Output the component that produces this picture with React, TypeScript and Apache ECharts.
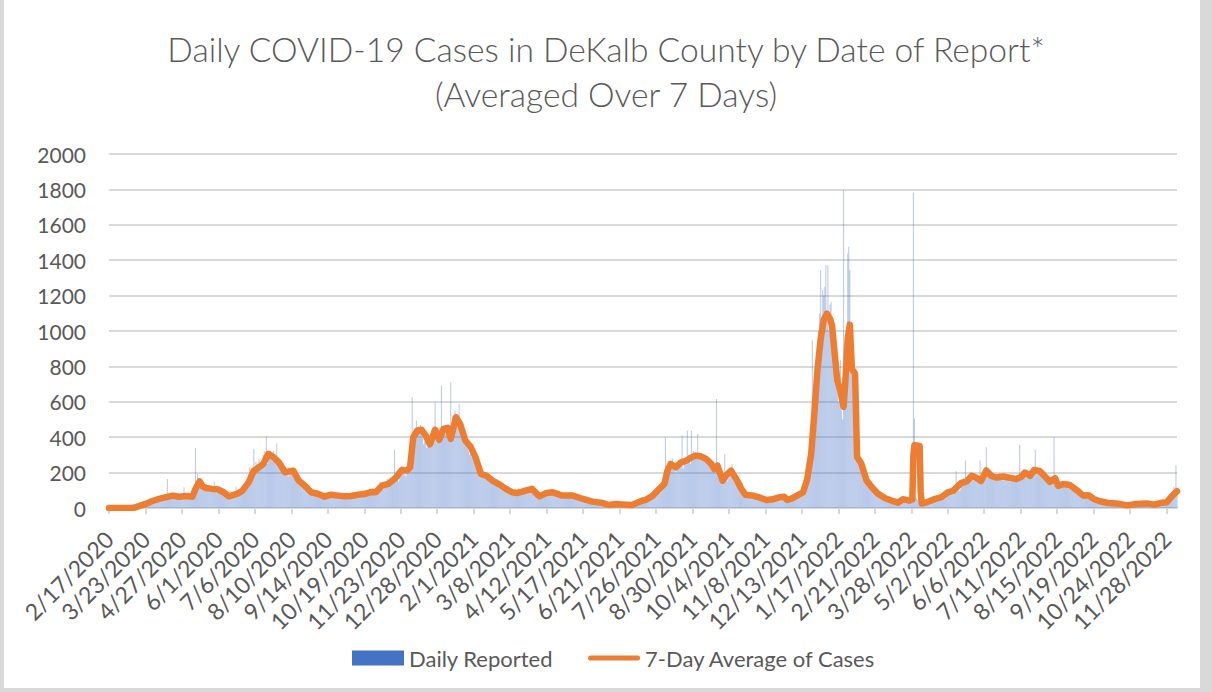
import React, { useEffect, useRef } from "react";
import * as echarts from "echarts";

// Daily reported cases, one value per day starting 2/17/2020 (one line per week)
const dailyReported: number[] = [
  0,0,0,0,0,0,0,
  0,0,0,0,0,0,0,
  0,1,0,2,1,0,1,
  2,4,6,5,8,3,6,
  10,14,18,12,22,15,16,
  25,34,28,40,31,22,30,
  38,52,60,44,41,35,48,
  50,66,72,48,64,45,55,
  164,72,75,58,82,62,60,
  55,70,80,48,72,58,75,
  62,78,117,50,70,55,66,
  60,72,85,110,70,65,340,
  150,192,170,130,120,140,115,
  110,125,95,130,118,90,105,
  100,120,95,150,110,85,100,
  90,105,120,80,95,70,88,
  65,75,80,55,72,60,68,
  70,95,85,120,72,65,80,
  100,115,130,90,125,105,110,
  150,190,230,170,200,210,334,
  220,260,250,210,280,230,240,
  270,300,320,260,404,250,280,
  300,310,280,270,320,260,290,
  366,270,240,230,260,200,220,
  210,230,190,220,180,200,195,
  200,230,210,180,190,160,175,
  150,160,130,145,120,135,140,
  110,120,95,100,85,90,100,
  85,95,75,80,70,72,80,
  70,80,60,72,65,58,66,
  75,85,70,78,65,68,72,
  68,80,72,70,64,62,70,
  70,75,60,72,62,58,68,
  72,80,65,75,68,60,70,
  80,85,70,82,72,68,75,
  90,95,80,88,78,82,85,
  95,110,85,95,80,75,90,
  120,150,110,135,105,115,125,
  140,165,150,170,125,130,145,
  170,328,180,190,160,150,175,
  200,240,230,220,190,180,210,
  260,300,320,380,626,420,400,
  450,494,420,460,430,470,410,
  400,360,380,420,340,350,390,
  380,420,450,430,400,598,410,
  430,400,450,420,692,410,440,
  460,420,440,400,430,450,711,
  480,520,500,550,470,460,510,
  589,480,430,400,380,420,360,
  350,380,320,300,340,290,310,
  280,260,230,250,210,220,200,
  190,210,180,200,170,160,185,
  170,180,150,165,140,155,160,
  140,150,125,135,115,120,130,
  110,125,100,115,95,100,108,
  95,105,85,92,80,82,90,
  95,110,88,100,80,85,92,
  105,120,95,110,90,98,100,
  100,110,85,92,80,78,85,
  70,85,72,80,65,68,75,
  90,100,82,95,78,80,88,
  85,95,75,82,70,72,80,
  72,85,65,75,62,60,70,
  75,82,68,72,60,62,70,
  62,72,55,65,50,52,60,
  48,55,42,50,38,40,45,
  38,45,32,40,28,30,34,
  30,35,26,32,22,24,28,
  22,28,18,24,15,16,20,
  24,28,20,25,18,19,22,
  22,26,18,24,15,16,20,
  20,24,16,22,14,15,18,
  25,32,28,38,26,30,32,
  40,52,48,60,42,45,50,
  58,72,65,80,55,60,68,
  90,115,100,120,85,95,100,
  150,200,399,220,180,230,250,
  260,240,280,220,250,200,230,
  240,270,230,260,409,220,250,
  280,260,437,300,270,250,437,
  300,320,280,310,290,418,300,
  290,310,270,300,280,260,290,
  260,280,240,270,250,230,255,
  230,250,616,220,210,200,230,
  200,180,160,305,170,150,165,
  200,220,180,249,190,170,195,
  160,150,130,145,120,125,140,
  90,100,75,85,70,65,80,
  72,85,65,75,60,62,70,
  60,70,55,62,50,52,58,
  50,58,44,52,40,42,47,
  55,65,50,60,48,50,55,
  68,78,60,72,58,60,65,
  52,60,45,55,42,45,50,
  70,85,72,90,65,70,80,
  100,120,140,160,180,200,230,
  250,300,380,948,500,600,700,
  800,900,1000,1100,1344,1050,1231,
  1200,1250,1372,1100,1372,1000,1150,
  1165,900,1005,800,700,750,854,
  600,650,835,550,500,1796,700,
  900,1000,1438,1476,1344,800,850,
  900,700,600,400,300,250,280,
  260,240,220,200,180,190,170,
  150,160,130,140,120,115,125,
  100,110,90,95,85,80,92,
  60,70,55,62,50,52,58,
  45,50,40,44,36,38,42,
  38,42,32,36,30,30,35,
  48,55,42,50,38,40,45,
  45,50,1781,505,60,55,48,
  40,30,25,35,20,22,28,
  30,40,35,42,28,30,35,
  45,55,40,50,38,42,48,
  60,75,55,68,50,55,62,
  85,100,80,95,75,78,88,
  110,208,100,125,95,105,140,
  150,170,140,268,140,130,150,
  180,200,170,190,160,165,175,
  160,180,150,268,140,145,160,
  200,220,343,210,180,190,205,
  180,200,170,190,160,165,175,
  175,195,165,185,155,160,170,
  170,190,160,180,150,155,165,
  165,185,155,175,145,150,358,
  190,210,180,200,170,175,190,
  195,215,185,205,175,180,195,
  330,230,200,220,190,195,210,
  185,200,175,190,165,170,180,
  150,170,145,160,400,140,155,
  130,150,125,140,115,120,130,
  125,145,120,135,110,115,125,
  100,115,95,110,88,90,100,
  75,85,70,80,62,65,72,
  62,72,58,65,52,55,60,
  48,55,42,50,38,40,45,
  34,40,30,36,26,28,32,
  28,34,25,30,22,24,27,
  25,30,22,27,20,21,24,
  18,22,15,20,13,14,17,
  22,28,20,25,18,19,22,
  26,32,24,30,22,23,26,
  25,30,22,28,20,22,25,
  20,25,18,23,16,17,20,
  28,34,25,32,24,25,28,
  40,55,48,62,45,50,60,
  120,90,242,100,
];

// 7-day average: day index (days since 2/17/2020) and value
const avgDays: number[] = [
  0, 22, 25, 28, 35, 41, 48, 54, 61, 67, 74, 80, 83, 87, 90, 93, 99, 105, 110, 115,
  120, 124, 128, 134, 139, 144, 148, 153, 158, 163, 169, 174, 177, 182, 188, 194, 201, 207, 213, 220,
  226, 232, 239, 245, 252, 256, 262, 268, 275, 281, 286, 289, 292, 296, 300, 304, 308, 313, 317, 321,
  325, 328, 333, 337, 342, 347, 352, 357, 362, 368, 375, 381, 387, 392, 400, 406, 413, 419, 426, 435,
  445, 455, 464, 474, 480, 486, 496, 502, 512, 515, 522, 528, 533, 536, 539, 544, 549, 554, 559, 563,
  568, 573, 578, 581, 584, 589, 592, 597, 602, 607, 611, 618, 624, 631, 637, 643, 648, 651, 656, 662,
  666, 670, 674, 677, 680, 683, 686, 689, 692, 694, 696, 699, 702, 705, 707, 709, 711, 713, 716, 718,
  722, 727, 732, 738, 745, 751, 757, 762, 768, 771, 772, 773, 778, 779, 780, 786, 792, 799, 805, 810,
  815, 818, 823, 828, 832, 837, 842, 847, 852, 858, 865, 871, 876, 879, 884, 888, 893, 898, 903, 908,
  911, 916, 922, 929, 935, 940, 945, 951, 959, 967, 977, 986, 996, 1003, 1009, 1015, 1020, 1025,
];
const avgValues: number[] = [
  0, 0, 3, 9, 23, 38, 51, 60, 70, 64, 68, 64, 108, 150, 122, 113, 108, 104, 89, 66,
  75, 83, 98, 145, 211, 230, 249, 306, 287, 258, 202, 208, 211, 155, 126, 89, 79, 64, 75, 70,
  66, 68, 75, 79, 91, 89, 126, 136, 170, 215, 211, 230, 400, 438, 442, 409, 360, 442, 385, 447,
  453, 390, 513, 475, 381, 347, 283, 192, 183, 155, 132, 108, 89, 85, 98, 108, 66, 83, 89, 70,
  70, 51, 36, 28, 17, 23, 19, 17, 42, 45, 70, 107, 136, 211, 249, 230, 258, 267, 286, 296,
  292, 277, 249, 220, 239, 154, 183, 211, 164, 107, 75, 70, 60, 45, 49, 60, 64, 45, 56, 75,
  88, 160, 310, 540, 785, 955, 1065, 1098, 1070, 1030, 900, 720, 660, 571, 745, 960, 1036, 785, 760, 288,
  251, 156, 119, 81, 55, 42, 30, 50, 42, 48, 300, 355, 350, 95, 25, 35, 50, 62, 88, 97,
  125, 142, 149, 182, 172, 153, 212, 180, 172, 178, 170, 163, 178, 200, 182, 215, 210, 180, 148, 168,
  125, 136, 130, 100, 70, 72, 51, 38, 28, 26, 15, 23, 26, 19, 28, 32, 66, 95,
];

const yTicks: number[] = [0, 200, 400, 600, 800, 1000, 1200, 1400, 1600, 1800, 2000];
const START_DATE = Date.UTC(2020, 1, 17);
const categories: string[] = dailyReported.map((_, i) => {
  const d = new Date(START_DATE + i * 86400000);
  return `${d.getUTCMonth() + 1}/${d.getUTCDate()}/${d.getUTCFullYear()}`;
});

const FONT = "Lato, 'Open Sans', sans-serif";
const TXT = "#595959";
const LINE_ICON = "path://M2.5,0 L49.5,0 A2.5,2.5 0 0 1 49.5,5 L2.5,5 A2.5,2.5 0 0 1 2.5,0 Z";

export default function App() {
  const ref = useRef<HTMLDivElement>(null);
  useEffect(() => {
    if (!ref.current) return;
    const chart = echarts.init(ref.current, undefined, { renderer: "svg" });
    chart.setOption({
      animation: false,
      textStyle: { fontFamily: FONT },
      title: {
        text: "Daily COVID-19 Cases in DeKalb County by Date of Report*\n(Averaged Over 7 Days)",
        left: "center",
        top: 21,
        textStyle: { fontFamily: FONT, fontSize: 33.6, fontWeight: 300, color: TXT, lineHeight: 45 },
      },
      legend: {
        left: 347,
        top: 642,
        itemWidth: 52,
        itemHeight: 15,
        itemGap: 35,
        textStyle: { fontFamily: FONT, fontSize: 22, color: TXT },
        data: [
          { name: "Daily Reported", icon: "rect", itemStyle: { color: "#4472C4", opacity: 1 } },
          { name: "7-Day Average of Cases", icon: LINE_ICON, itemStyle: { color: "#ED7D31" } },
        ],
      },
      grid: { left: 109, right: 35, top: 154, bottom: 184 },
      xAxis: {
        type: "category",
        data: categories,
        boundaryGap: false,
        axisLine: { lineStyle: { color: "#d9d9d9", width: 2 } },
        axisTick: { interval: 34, length: 6, lineStyle: { color: "#d9d9d9", width: 2 } },
        axisLabel: { interval: 34, rotate: 45, margin: 27, fontSize: 23, color: TXT, fontFamily: FONT },
        splitLine: { show: false },
      },
      yAxis: {
        type: "value",
        min: yTicks[0],
        max: yTicks[yTicks.length - 1],
        interval: 200,
        axisLine: { show: false },
        axisTick: { show: false },
        axisLabel: { margin: 23, fontSize: 21, color: TXT, fontFamily: FONT, formatter: (v: number) => String(v) },
        splitLine: { lineStyle: { color: "#d9d9d9", width: 2 } },
      },
      series: [
        {
          name: "Daily Reported",
          type: "bar",
          data: dailyReported,
          barCategoryGap: "0%",
          itemStyle: { color: "rgba(68,114,196,0.38)" },
          z: 2,
        },
        {
          name: "7-Day Average of Cases",
          type: "line",
          data: avgDays.map((d, i) => [d, avgValues[i]]),
          symbol: "none",
          lineStyle: { color: "#ED7D31", width: 6.5, cap: "round", join: "round" },
          itemStyle: { color: "#ED7D31" },
          z: 3,
        },
      ],
    });
    return () => chart.dispose();
  }, []);
  return (
    <div style={{ position: "fixed", left: 0, top: 0, width: 1212, height: 692, background: "#d9d9d9" }}>
      <div style={{ position: "absolute", left: 4, top: 0, width: 1196, height: 688, background: "#fff" }} />
      <div ref={ref} style={{ position: "absolute", left: 0, top: 0, width: 1212, height: 692 }} />
    </div>
  );
}
